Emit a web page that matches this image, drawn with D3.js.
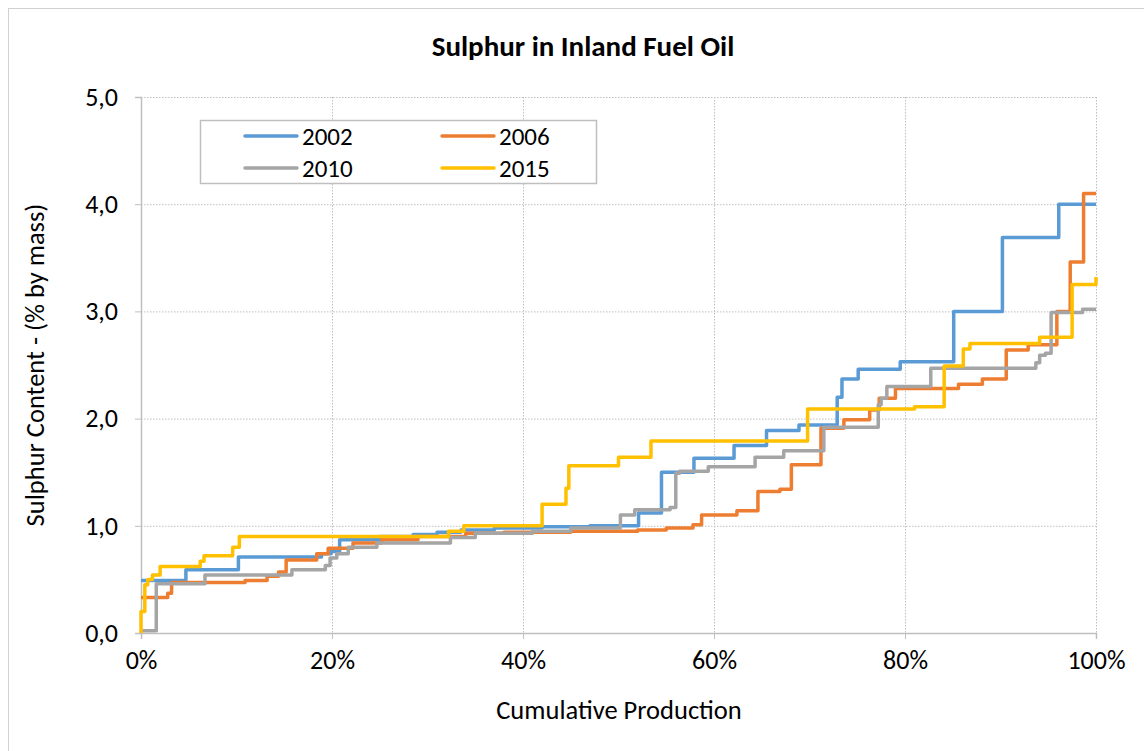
<!DOCTYPE html>
<html>
<head>
<meta charset="utf-8">
<script src="https://cdn.jsdelivr.net/npm/d3@7"></script>
<style>
  body { margin: 0; background: #fff; }
  svg { font-family: Carlito, Calibri, Lato, "Open Sans", sans-serif; }
</style>
</head>
<body>
<div id="chart"></div>
<script>
var width = 1144;
var height = 751;

// cumulative production (%) where each step starts, and sulphur content (% by mass)
var cum2002 = [0, 4.7, 10.2, 18.9, 19.9, 20.8, 25, 28.5, 31, 33.5, 37, 42, 47, 52.1, 54.5, 57.9, 62.1, 65.5, 68.9, 72.9, 73.4, 75.1, 79.5, 85.1, 90.2, 96.1, 100];
var sul2002 = [0.49, 0.59, 0.71, 0.74, 0.76, 0.87, 0.90, 0.92, 0.94, 0.96, 0.98, 0.99, 1.00, 1.12, 1.50, 1.63, 1.75, 1.89, 1.94, 2.20, 2.37, 2.46, 2.53, 3.00, 3.69, 4.00, 4.00];

var cum2006 = [0, 2.8, 3.2, 10.9, 13.2, 14.4, 15.2, 18.4, 19.6, 22.2, 25.2, 29, 34, 38, 45, 52, 55, 57.8, 58.7, 62.4, 64.6, 66.9, 68.1, 71.2, 73.6, 76.3, 77.3, 79.0, 85.6, 88.1, 90.6, 92.9, 95.9, 97.3, 98.7, 100];
var sul2006 = [0.33, 0.37, 0.47, 0.49, 0.53, 0.57, 0.68, 0.74, 0.79, 0.84, 0.87, 0.90, 0.93, 0.94, 0.95, 0.96, 0.98, 1.01, 1.10, 1.14, 1.32, 1.34, 1.57, 1.91, 1.99, 2.08, 2.19, 2.28, 2.32, 2.37, 2.64, 2.69, 3.00, 3.46, 4.10, 4.10];

var cum2010 = [0, 1.6, 6.7, 15.8, 19.3, 19.8, 20.5, 21.7, 24.7, 32.4, 35, 41, 45, 50.2, 51.7, 55.4, 56.0, 56.4, 59.4, 64.3, 67.3, 71.5, 77.2, 77.5, 78.1, 82.7, 93.7, 94.1, 94.7, 95.3, 98.6, 100];
var sul2010 = [0.02, 0.46, 0.54, 0.59, 0.63, 0.70, 0.74, 0.80, 0.84, 0.89, 0.93, 0.95, 0.98, 1.10, 1.15, 1.17, 1.49, 1.51, 1.55, 1.64, 1.70, 1.92, 2.13, 2.19, 2.30, 2.47, 2.52, 2.59, 2.61, 2.99, 3.02, 3.02];

var cum2015 = [0, 0, 0.4, 0.7, 1.2, 2.0, 6.2, 6.6, 9.6, 10.3, 32.2, 33.8, 42.0, 44.5, 44.8, 50.0, 53.4, 69.8, 81.0, 84.1, 86.1, 86.8, 94.1, 97.5, 100];
var sul2015 = [0, 0.20, 0.45, 0.50, 0.54, 0.62, 0.67, 0.72, 0.80, 0.90, 0.95, 1.00, 1.20, 1.35, 1.56, 1.64, 1.79, 2.09, 2.11, 2.49, 2.65, 2.70, 2.76, 3.25, 3.32];

var years = ["2002", "2006", "2010", "2015"];
var colors = ["#5B9BD5", "#ED7D31", "#A5A5A5", "#FFC000"];
var yTicks = [0, 1, 2, 3, 4, 5];
var xTicks = [0, 20, 40, 60, 80, 100];

var series = [
  { name: years[0], xs: cum2002, ys: sul2002 },
  { name: years[1], xs: cum2006, ys: sul2006 },
  { name: years[2], xs: cum2010, ys: sul2010 },
  { name: years[3], xs: cum2015, ys: sul2015 }
];

var svg = d3.select("#chart")
  .append("svg")
  .attr("width", width)
  .attr("height", height);

// outer chart border
svg.append("rect")
  .attr("x", 8.5).attr("y", 8.5)
  .attr("width", width + 20).attr("height", height + 20)
  .attr("fill", "none")
  .attr("stroke", "#d0d0d0");

var x = d3.scaleLinear().domain([0, 100]).range([141, 1096]);
var y = d3.scaleLinear().domain([0, 5]).range([633, 97]);

// gridlines
svg.append("g").selectAll("line")
  .data(yTicks.slice(1))
  .enter().append("line")
  .attr("x1", x(0)).attr("x2", x(100))
  .attr("y1", function(d){ return y(d) + 0.5; })
  .attr("y2", function(d){ return y(d) + 0.5; })
  .attr("stroke", "#bfbfbf")
  .attr("stroke-dasharray", "1.5,1.5");

svg.append("g").selectAll("line")
  .data(xTicks.slice(1))
  .enter().append("line")
  .attr("x1", function(d){ return x(d) + 0.5; })
  .attr("x2", function(d){ return x(d) + 0.5; })
  .attr("y1", y(5)).attr("y2", y(0))
  .attr("stroke", "#bfbfbf")
  .attr("stroke-dasharray", "1.5,1.5");

// axes
var xAxis = svg.append("g")
  .attr("transform", "translate(0," + y(0) + ")")
  .call(d3.axisBottom(x).tickValues(xTicks).tickSize(6).tickPadding(12)
    .tickFormat(function(d){ return d + "%"; }));

var yAxis = svg.append("g")
  .attr("transform", "translate(" + x(0) + ",0)")
  .call(d3.axisLeft(y).tickValues(yTicks).tickSize(6).tickPadding(17)
    .tickFormat(function(d){ return d3.format(".1f")(d).replace(".", ","); }));

[xAxis, yAxis].forEach(function(a){
  a.select(".domain").attr("stroke", "#bfbfbf").attr("stroke-width", 1.5);
  a.selectAll(".tick line").attr("stroke", "#bfbfbf");
  a.selectAll(".tick text")
    .attr("fill", "#000")
    .attr("font-size", "26px")
    .attr("font-family", "Carlito, Calibri, Lato, 'Open Sans', sans-serif");
});

// step lines
var line = d3.line()
  .x(function(d){ return x(d[0]); })
  .y(function(d){ return y(d[1]); })
  .curve(d3.curveStepAfter);

svg.append("g").selectAll("path")
  .data(series)
  .enter().append("path")
  .attr("d", function(s){
    return line(s.xs.map(function(v, i){ return [v, s.ys[i]]; }));
  })
  .attr("fill", "none")
  .attr("stroke", function(s, i){ return colors[i]; })
  .attr("stroke-width", 3.5)
  .attr("stroke-linejoin", "round");

// title
svg.append("text")
  .text("Sulphur in Inland Fuel Oil")
  .attr("x", 583).attr("y", 56)
  .attr("text-anchor", "middle")
  .attr("font-size", "29px")
  .attr("font-weight", "bold");

// axis titles
svg.append("text")
  .text("Cumulative Production")
  .attr("x", 619).attr("y", 719)
  .attr("text-anchor", "middle")
  .attr("font-size", "26.5px");

svg.append("text")
  .text("Sulphur Content - (% by mass)")
  .attr("transform", "translate(44,365) rotate(-90)")
  .attr("text-anchor", "middle")
  .attr("font-size", "26.5px");

// legend
var legend = svg.append("g");
legend.append("rect")
  .attr("x", 200.5).attr("y", 120.5)
  .attr("width", 396).attr("height", 63)
  .attr("fill", "#fff")
  .attr("stroke", "#bfbfbf")
  .attr("stroke-width", 1.5);

var items = legend.selectAll("g.item")
  .data(years)
  .enter().append("g")
  .attr("class", "item")
  .attr("transform", function(d, i){
    return "translate(" + (i % 2 === 0 ? 245 : 442) + "," + (i < 2 ? 136 : 168) + ")";
  });

items.append("line")
  .attr("x1", 0).attr("x2", 52)
  .attr("stroke", function(d, i){ return colors[i]; })
  .attr("stroke-width", 3.5)
  .attr("stroke-linecap", "round");

items.append("text")
  .text(function(d){ return d; })
  .attr("x", 57).attr("y", 9)
  .attr("font-size", "25px");
</script>
</body>
</html>
